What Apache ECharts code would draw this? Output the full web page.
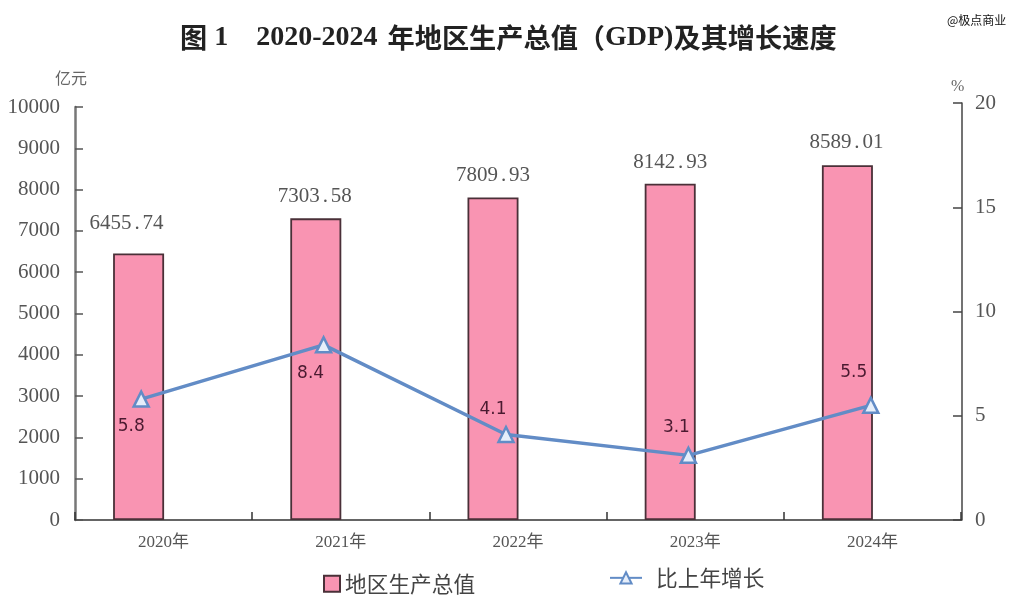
<!DOCTYPE html>
<html><head><meta charset="utf-8">
<style>html,body{margin:0;padding:0;background:#fff}#c{width:1024px;height:613px}</style>
<script src="https://cdn.jsdelivr.net/npm/echarts@6/dist/echarts.min.js"></script>
</head><body><div id="c"></div>
<script>
const categories = ['2020年','2021年','2022年','2023年','2024年'];
const gdpValues = [6455.74,7303.58,7809.93,8142.93,8589.01];
const growthValues = [5.8,8.4,4.1,3.1,5.5];
const gdpLabels = ['6455.74','7303.58','7809.93','8142.93','8589.01'];
const leftTicks = [0,1000,2000,3000,4000,5000,6000,7000,8000,9000,10000];
const rightTicks = [0,5,10,15,20];

const gdpOffset = [[-12,-8],[-1,0],[0,0],[0,0],[-1,-1]];
const growthOffset = [[-10,28],[-13,29],[-13,-25],[-12,-28],[-17,-33]];
const serif = '"Liberation Serif","Noto Sans CJK SC",serif';
const cjk = '"Noto Sans CJK SC"';
const chart = echarts.init(document.getElementById('c'),null,{renderer:'canvas'});
const tC = {fontFamily:cjk,fontWeight:'bold',fontSize:27.2,color:'#222'};
const tL = {fontFamily:'"Liberation Serif"',fontWeight:'bold',fontSize:28,color:'#222'};
chart.setOption({
  animation:false,
  backgroundColor:'#fff',
  title:[
    {text:'{c|图}{l| 1    2020-2024}{s| }{c|年地区生产总值（}{l|GDP)}{c|及其增长速度}',left:175,top:19,
     textStyle:{rich:{c:tC,l:tL,s:{width:10,fontSize:28}}}},
    {text:'@极点商业',left:942,top:9,textStyle:{fontFamily:cjk,fontSize:12,fontWeight:'normal',color:'#111'}},
    {text:'亿元',left:50,top:65,textStyle:{fontFamily:cjk,fontSize:16,fontWeight:'normal',color:'#666'}},
    {text:'%',left:946,top:74,textStyle:{fontFamily:serif,fontSize:16,fontWeight:'normal',color:'#666'}}
  ],
  grid:[
    {left:75,top:107,width:886,height:413},
    {left:50,top:107,width:886,height:413},
    {left:50,top:103,width:912,height:417}
  ],
  xAxis:[
    {gridIndex:0,type:'category',data:categories,boundaryGap:true,
     axisLine:{lineStyle:{color:'#333',width:1.5}},
     axisTick:{show:true,inside:true,length:8,lineStyle:{color:'#333',width:1.5}},
     axisLabel:{fontFamily:serif,fontSize:17,color:'#555',margin:14}},
    {gridIndex:1,type:'category',data:categories,show:false},
    {gridIndex:2,type:'category',data:categories,show:false}
  ],
  yAxis:[
    {gridIndex:0,type:'value',min:0,max:10000,interval:1000,position:'left',splitLine:{show:false},
     axisLine:{show:true,lineStyle:{color:'#777',width:2.5}},
     axisTick:{show:true,inside:true,length:8,lineStyle:{color:'#555',width:1.5}},
     axisLabel:{fontFamily:serif,fontSize:21,color:'#555',margin:15,padding:[3,0,0,0],
       customValues:leftTicks,formatter:v=>String(v)}},
    {gridIndex:1,type:'value',min:0,max:10000,interval:1000,show:false},
    {gridIndex:2,type:'value',min:0,max:20,interval:5,position:'right',splitLine:{show:false},
     axisLine:{show:true,lineStyle:{color:'#444',width:1.5}},
     axisTick:{show:true,inside:true,length:9,lineStyle:{color:'#444',width:1.5}},
     axisLabel:{fontFamily:serif,fontSize:21,color:'#555',margin:13,padding:[2,0,0,0],
       customValues:rightTicks,formatter:v=>String(v)}}
  ],
  legend:[
    {left:318,top:568,itemWidth:16,itemHeight:16,itemGap:6,data:[{name:'地区生产总值',icon:'rect'}],
     textStyle:{fontFamily:cjk,fontSize:21.7,color:'#444',padding:[0,0,0,0]}},
    {left:604,top:562,itemWidth:32,itemHeight:14,data:['比上年增长'],
     textStyle:{fontFamily:cjk,fontSize:21.7,color:'#444',padding:[0,0,0,9]}}
  ],
  series:[
    {name:'地区生产总值',type:'bar',xAxisIndex:1,yAxisIndex:1,barWidth:51,
     itemStyle:{color:'#F994B2',borderColor:'#4a3038',borderWidth:1.8},
     data:gdpValues.map((v,i)=>({value:v,label:{show:true,position:'top',distance:11,
       offset:gdpOffset[i],
       formatter:gdpLabels[i].replace(/(\d+)\.(\d+)/,'{d|$1}{p|.}{d|$2}'),
       rich:{d:{fontFamily:serif,fontSize:21,color:'#555'},p:{fontFamily:serif,fontSize:21,color:'#555',width:11,align:'left'}}}}))},
    {name:'比上年增长',type:'line',xAxisIndex:2,yAxisIndex:2,symbol:'triangle',symbolSize:15,showAllSymbol:true,z:5,
     lineStyle:{color:'#628CC6',width:3.5},
     itemStyle:{color:'#E6EEFA',borderColor:'#628CC6',borderWidth:2.5},
     data:growthValues.map((v,i)=>({value:v,label:{show:true,position:'inside',offset:growthOffset[i],
       formatter:String(v),fontFamily:'"DejaVu Sans"',fontSize:17,color:'#4a1a30'}}))}
  ]
});
</script></body></html>
